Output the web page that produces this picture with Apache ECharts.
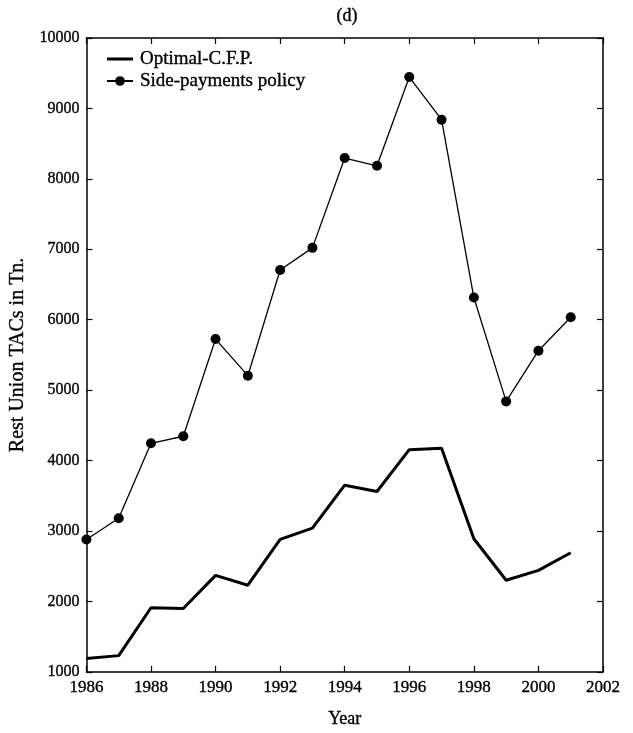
<!DOCTYPE html>
<html>
<head>
<meta charset="utf-8">
<script src="https://cdn.jsdelivr.net/npm/echarts@6/dist/echarts.min.js"></script>
<style>html,body{margin:0;padding:0;background:#fff;}#c{width:633px;height:733px;}</style>
</head>
<body>
<div id="c"></div>
<script>
const years = [1986,1987,1988,1989,1990,1991,1992,1993,1994,1995,1996,1997,1998,1999,2000,2001];
const optimalCFP = [1190,1230,1910,1900,2370,2230,2880,3040,3650,3560,4155,4175,2890,2300,2440,2690];
const sidePayments = [2880,3180,4245,4345,5725,5205,6705,7020,8295,8185,9445,8840,6315,4840,5560,6035];
const seriesNames = ["Optimal-C.F.P.", "Side-payments policy"];
const titleText = "(d)";
const xName = "Year";
const yName = "Rest Union TACs in Tn.";

const FONT = "Liberation Serif";
const heavy = {textBorderColor: '#000', textBorderWidth: 0.35};
const chart = echarts.init(document.getElementById('c'), null, {renderer: 'canvas'});
const lineStyleAxis = {color: '#000', width: 1.5};
const tick = {show: true, inside: true, length: 6, lineStyle: {color: '#000', width: 1.2}};
chart.setOption({
  animation: false,
  backgroundColor: '#fff',
  title: {text: titleText, left: 342, top: 2, textAlign: 'center',
    textStyle: Object.assign({fontFamily: FONT, fontSize: 18, fontWeight: 'normal', color: '#000'}, heavy)},
  grid: {left: 82, right: 30, top: 38, bottom: 58, containLabel: false},
  legend: {
    left: 101, top: 44, orient: 'vertical', itemWidth: 26, itemHeight: 12, itemGap: 2,
    textStyle: Object.assign({fontFamily: FONT, fontSize: 19, lineHeight: 20, color: '#000', padding: [0,0,0,2]}, heavy),
    data: [
      {name: seriesNames[0], icon: 'path://M0,0 M26,12 M0,4.5 L26,4.5 L26,7.5 L0,7.5 Z'},
      {name: seriesNames[1]}
    ]
  },
  xAxis: [{
    type: 'value', min: 1986, max: 2002, interval: 2, position: 'bottom',
    name: xName, nameLocation: 'middle', nameGap: 38,
    nameTextStyle: Object.assign({fontFamily: FONT, fontSize: 18, color: '#000'}, heavy),
    axisLine: {show: true, lineStyle: lineStyleAxis},
    axisTick: tick, splitLine: {show: false},
    axisLabel: Object.assign({fontFamily: FONT, fontSize: 17, color: '#000', margin: 7, formatter: v => String(v)}, heavy)
  }, {
    type: 'value', min: 1986, max: 2002, interval: 2, position: 'top',
    axisLine: {show: true, lineStyle: lineStyleAxis},
    axisTick: tick, splitLine: {show: false}, axisLabel: {show: false}
  }],
  yAxis: [{
    type: 'value', min: 1000, max: 10000, interval: 1000, position: 'left',
    name: yName, nameLocation: 'middle', nameGap: 56, nameRotate: 90,
    nameTextStyle: Object.assign({fontFamily: FONT, fontSize: 20, color: '#000'}, heavy),
    axisLine: {show: true, lineStyle: lineStyleAxis},
    axisTick: tick, splitLine: {show: false},
    axisLabel: Object.assign({fontFamily: FONT, fontSize: 16, color: '#000', margin: 7, formatter: v => String(v)}, heavy)
  }, {
    type: 'value', min: 1000, max: 10000, interval: 1000, position: 'right',
    axisLine: {show: true, lineStyle: lineStyleAxis},
    axisTick: tick, splitLine: {show: false}, axisLabel: {show: false}
  }],
  series: [{
    name: seriesNames[0], type: 'line', xAxisIndex: 0, yAxisIndex: 0,
    data: years.map((y, i) => [y, optimalCFP[i]]),
    symbol: 'none', lineStyle: {color: '#000', width: 3}, itemStyle: {color: '#000'}
  }, {
    name: seriesNames[1], type: 'line', xAxisIndex: 0, yAxisIndex: 0,
    data: years.map((y, i) => [y, sidePayments[i]]),
    symbol: 'circle', symbolSize: 10,
    lineStyle: {color: '#000', width: 1.3}, itemStyle: {color: '#000'}
  }]
});
</script>
</body>
</html>
